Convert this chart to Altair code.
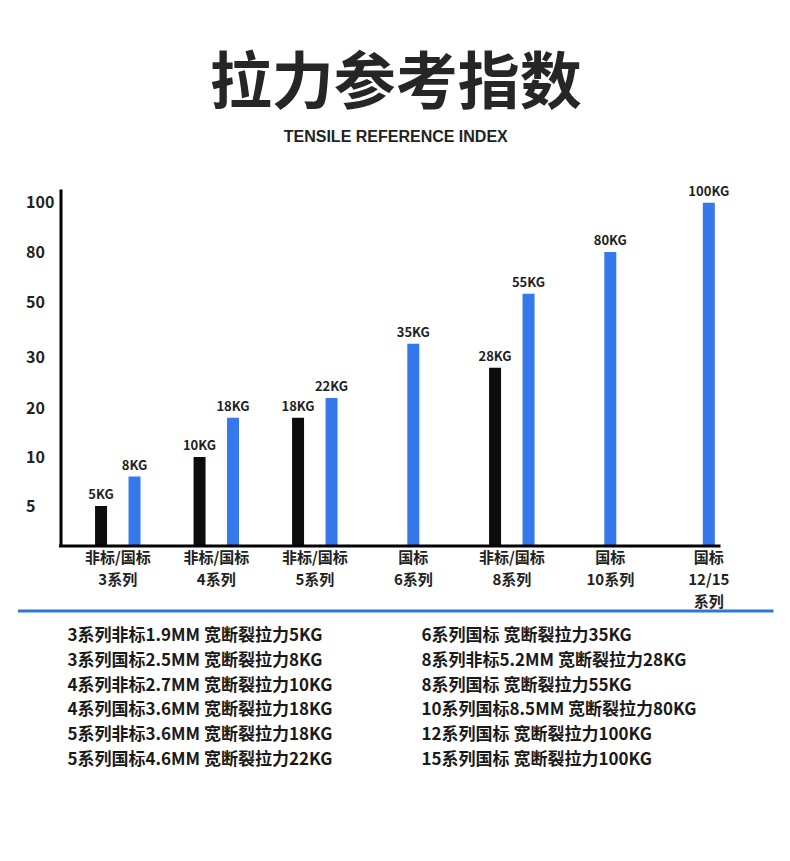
import altair as alt
import pandas as pd

# ---- data ----
groups = ["非标/国标|3系列", "非标/国标|4系列", "非标/国标|5系列", "国标|6系列",
          "非标/国标|8系列", "国标|10系列", "国标|12/15|系列"]

pair_groups = ["非标/国标|3系列", "非标/国标|3系列", "非标/国标|4系列", "非标/国标|4系列",
               "非标/国标|5系列", "非标/国标|5系列", "非标/国标|8系列", "非标/国标|8系列"]
pair_types = ["非标", "国标", "非标", "国标", "非标", "国标", "非标", "国标"]
pair_values = [5, 8, 10, 18, 18, 22, 28, 55]

single_groups = ["国标|6系列", "国标|10系列", "国标|12/15|系列"]
single_values = [35, 80, 100]

y_ticks = [5, 10, 20, 30, 50, 80, 100]

notes_left = ["3系列非标1.9MM 宽断裂拉力5KG", "3系列国标2.5MM 宽断裂拉力8KG",
              "4系列非标2.7MM 宽断裂拉力10KG", "4系列国标3.6MM 宽断裂拉力18KG",
              "5系列非标3.6MM 宽断裂拉力18KG", "5系列国标4.6MM 宽断裂拉力22KG"]
notes_right = ["6系列国标 宽断裂拉力35KG", "8系列非标5.2MM 宽断裂拉力28KG",
               "8系列国标 宽断裂拉力55KG", "10系列国标8.5MM 宽断裂拉力80KG",
               "12系列国标 宽断裂拉力100KG", "15系列国标 宽断裂拉力100KG"]

BLUE = "#3478ec"
FONT = "Noto Sans CJK SC"

pairs = pd.DataFrame({"group": pair_groups, "type": pair_types, "value": pair_values})
pairs["label"] = pairs["value"].astype(str) + "KG"
singles = pd.DataFrame({"group": single_groups, "value": single_values})
singles["label"] = singles["value"].astype(str) + "KG"

W, H = 660, 357

xscale = alt.Scale(domain=groups, range=[23.8, 681.8], paddingInner=0.32, paddingOuter=0)
yscale = alt.Scale(domain=[0, 5, 10, 20, 30, 50, 80, 100, 105.5],
                   range=[357, 317, 268, 219, 168.7, 113, 63, 13.7, 0],
                   nice=False, zero=False)

xenc = alt.X("group:N", scale=xscale, sort=None, title=None,
             axis=alt.Axis(labelExpr="split(datum.label, '|')", labelAngle=0,
                           labelFont=FONT, labelFontSize=15, labelFontWeight="bold",
                           labelColor="#222222", labelLineHeight=22, labelPadding=4,
                           domain=False, ticks=False, grid=False))
yenc = alt.Y("value:Q", scale=yscale, title=None,
             axis=alt.Axis(values=y_ticks, labelAlign="left", labelPadding=35, tickSize=0,
                           ticks=False, grid=False, domainColor="#000000", domainWidth=3,
                           labelFont=FONT, labelFontSize=16, labelFontWeight="bold",
                           labelColor="#222222"))
off = alt.XOffset("type:N", scale=alt.Scale(domain=["非标", "国标"]))

label_style = dict(baseline="bottom", dy=-4, font=FONT, fontSize=13,
                   fontWeight="bold", color="#222222")

pair_bars = alt.Chart(pairs).mark_bar(width=12).encode(
    x=xenc, xOffset=off, y=yenc,
    color=alt.Color("type:N", scale=alt.Scale(domain=["非标", "国标"], range=["#0d0d0d", BLUE]),
                    legend=None))
pair_text = alt.Chart(pairs).mark_text(**label_style).encode(
    x=xenc, xOffset=off, y=yenc, text="label:N")
single_bars = alt.Chart(singles).mark_bar(width=12, color=BLUE).encode(x=xenc, y=yenc)
single_text = alt.Chart(singles).mark_text(**label_style).encode(
    x=xenc, y=yenc, text="label:N")
baseline = alt.Chart(pd.DataFrame({"v": [0]})).mark_rule(color="#000000", strokeWidth=3).encode(
    y=alt.Y("v:Q", scale=yscale), x=alt.value(-1.5), x2=alt.value(W))

bars = alt.layer(pair_bars, single_bars, pair_text, single_text, baseline).properties(
    width=W, height=H)

# ---- notes ----
notes = pd.DataFrame({
    "text": notes_left + notes_right,
    "col": ["L"] * len(notes_left) + ["R"] * len(notes_right),
    "row": list(range(1, len(notes_left) + 1)) + list(range(1, len(notes_right) + 1)),
})
notes_text = alt.Chart(notes).mark_text(align="left", baseline="middle", font=FONT,
                                        fontSize=17, fontWeight="bold",
                                        color="#1a1a1a").encode(
    x=alt.X("col:N", scale=alt.Scale(type="point", domain=["L", "R"], range=[7, 361], padding=0),
            axis=None),
    y=alt.Y("row:O", scale=alt.Scale(type="point", range=[25, 149], padding=0), axis=None),
    text="text:N")
blue_line = alt.Chart(pd.DataFrame({"a": [0]})).mark_rule(color="#2f78d2", strokeWidth=3).encode(
    x=alt.value(-42.5), x2=alt.value(713), y=alt.value(0))
notes_chart = alt.layer(blue_line, notes_text).properties(width=W, height=180)

chart = alt.vconcat(bars, notes_chart, spacing=65, bounds="flush").properties(
    title=alt.TitleParams(text="拉力参考指数", subtitle="TENSILE REFERENCE INDEX",
                          font=FONT, fontSize=62, fontWeight="bold", color="#262626",
                          subtitleFont="Liberation Sans", subtitleFontSize=16,
                          subtitleFontWeight="bold", subtitleColor="#222222",
                          subtitlePadding=12, offset=40, anchor="middle"),
    padding={"left": 8.5, "top": 45, "right": 0, "bottom": 10},
    background="#ffffff",
).configure_view(stroke=None)

chart.save("out.html", embed_options={"renderer": "svg", "actions": False})
